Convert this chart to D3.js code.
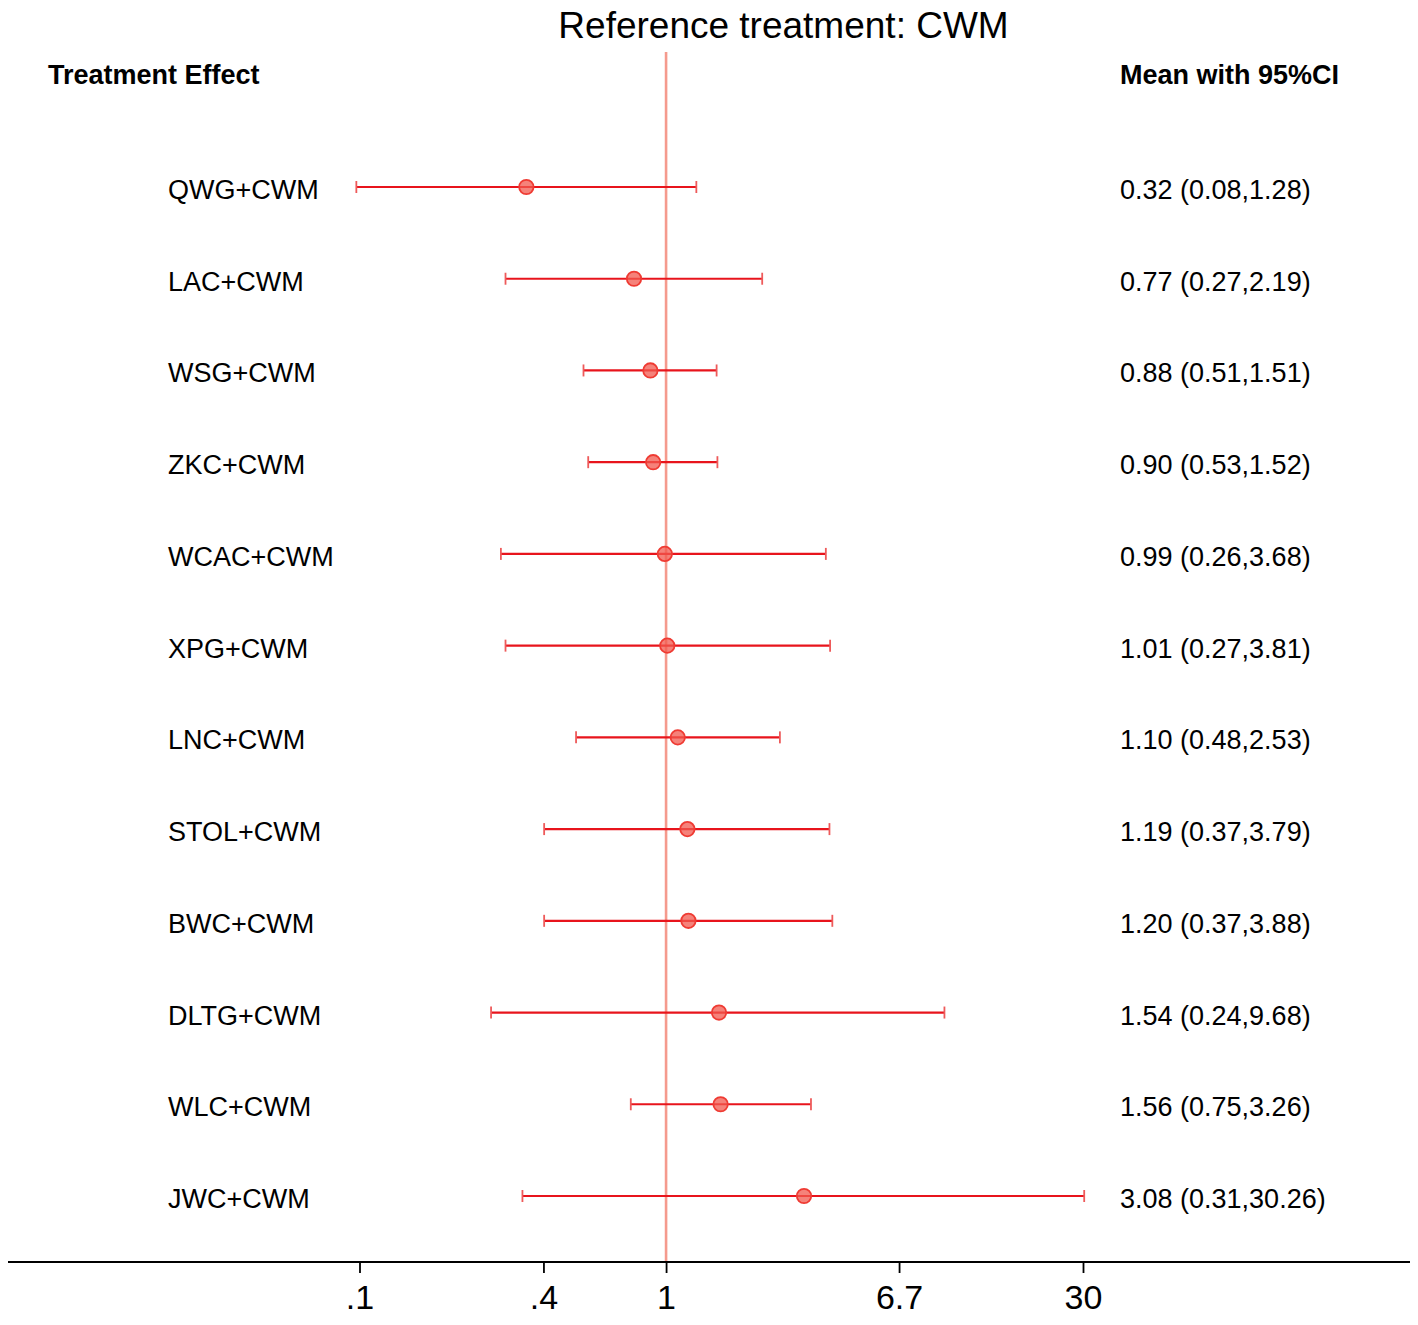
<!DOCTYPE html>
<html>
  <head>
    <meta charset="UTF-8" />
    <title>Reference treatment: CWM</title>
    <style>
      body { margin: 0; background: #fff; }
      text { font-family: "Liberation Sans", Arial, Helvetica, sans-serif; fill: #000; }
    </style>
    <script src="https://d3js.org/d3.v7.min.js"></script>
  </head>
  <body>
    <svg id="viz" width="1418" height="1325"></svg>
    <script>
      // data
      var treatments = ["QWG+CWM", "LAC+CWM", "WSG+CWM", "ZKC+CWM", "WCAC+CWM", "XPG+CWM",
        "LNC+CWM", "STOL+CWM", "BWC+CWM", "DLTG+CWM", "WLC+CWM", "JWC+CWM"];
      var means = [0.32, 0.77, 0.88, 0.90, 0.99, 1.01, 1.10, 1.19, 1.20, 1.54, 1.56, 3.08];
      var lower = [0.08, 0.27, 0.51, 0.53, 0.26, 0.27, 0.48, 0.37, 0.37, 0.24, 0.75, 0.31];
      var upper = [1.28, 2.19, 1.51, 1.52, 3.68, 3.81, 2.53, 3.79, 3.88, 9.68, 3.26, 30.26];
      // ticks sit at exp(-2.5), exp(-1), 1, exp(1.9), exp(3.4)
      var tickValues = [Math.exp(-2.5), Math.exp(-1), 1, Math.exp(1.9), Math.exp(3.4)];
      var tickLabels = [".1", ".4", "1", "6.7", "30"];

      var rows = treatments.map((t, i) => ({ name: t, mean: means[i], lo: lower[i], hi: upper[i] }));

      var svg = d3.select("#viz");
      var axisY = 1262;

      var x = d3.scaleLog()
        .domain([Math.exp(-2.5), Math.exp(3.4)])
        .range([359.5, 1083]);
      var y = d3.scalePoint()
        .domain(treatments)
        .range([187, 1196]);

      // title and headers
      svg.append("text").attr("x", 783.5).attr("y", 38)
        .attr("text-anchor", "middle").style("font-size", "37px")
        .text("Reference treatment: CWM");
      svg.append("text").attr("x", 48).attr("y", 84)
        .style("font-size", "27px").style("font-weight", "bold")
        .text("Treatment Effect");
      svg.append("text").attr("x", 1120).attr("y", 84)
        .style("font-size", "27px").style("font-weight", "bold")
        .text("Mean with 95%CI");

      // reference line at 1
      svg.append("line")
        .attr("x1", x(1)).attr("x2", x(1))
        .attr("y1", 52).attr("y2", axisY)
        .attr("stroke", "#f59a8d").attr("stroke-width", 2.6);

      // axis
      var axis = d3.axisBottom(x)
        .tickValues(tickValues)
        .tickFormat((d, i) => tickLabels[i])
        .tickSize(11)
        .tickPadding(12);
      var gAxis = svg.append("g").attr("transform", "translate(0," + axisY + ")").call(axis);
      gAxis.select(".domain").remove();
      gAxis.selectAll(".tick line").attr("stroke", "#000").attr("stroke-width", 1.8);
      gAxis.selectAll(".tick text")
        .style("font-size", "34px")
        .attr("fill", "#000")
        .style("font-family", "'Liberation Sans', Arial, sans-serif");
      svg.append("line")
        .attr("x1", 8).attr("x2", 1410)
        .attr("y1", axisY).attr("y2", axisY)
        .attr("stroke", "#000").attr("stroke-width", 2.2);

      // rows
      var g = svg.append("g").selectAll("g").data(rows).enter().append("g");

      g.append("text")
        .attr("x", 168).attr("y", (d) => y(d.name) + 12)
        .style("font-size", "27px")
        .text((d) => d.name);

      g.append("text")
        .attr("x", 1120).attr("y", (d) => y(d.name) + 12)
        .style("font-size", "27px")
        .text((d) => d3.format(".2f")(d.mean) + " (" + d3.format(".2f")(d.lo) + "," + d3.format(".2f")(d.hi) + ")");

      g.append("line")
        .attr("x1", (d) => x(d.lo)).attr("x2", (d) => x(d.hi))
        .attr("y1", (d) => y(d.name)).attr("y2", (d) => y(d.name))
        .attr("stroke", "#e8141c").attr("stroke-width", 2.2);

      ["lo", "hi"].forEach((k) => {
        g.append("line")
          .attr("x1", (d) => x(d[k])).attr("x2", (d) => x(d[k]))
          .attr("y1", (d) => y(d.name) - 6).attr("y2", (d) => y(d.name) + 6)
          .attr("stroke", "#ee5a5a").attr("stroke-width", 1.8);
      });

      g.append("circle")
        .attr("cx", (d) => x(d.mean)).attr("cy", (d) => y(d.name))
        .attr("r", 7.2)
        .attr("fill", "#f2584e").attr("fill-opacity", 0.75)
        .attr("stroke", "#ef3b33").attr("stroke-width", 1.8);
    </script>
  </body>
</html>
